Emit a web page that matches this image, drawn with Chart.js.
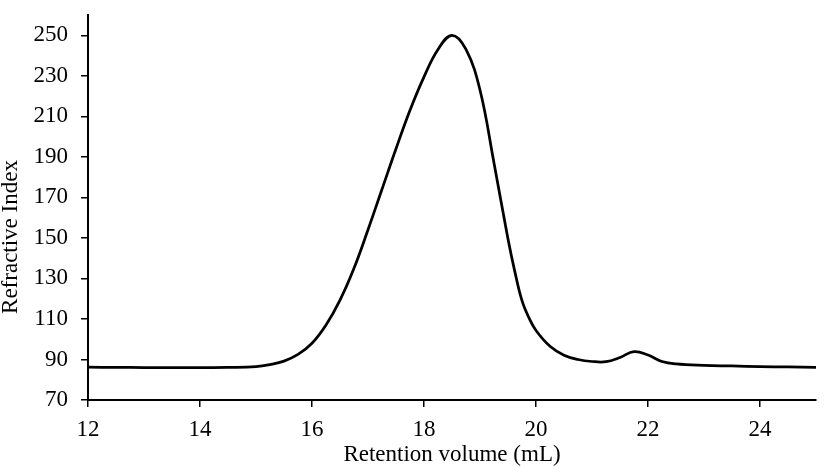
<!DOCTYPE html>
<html>
<head>
<meta charset="utf-8">
<script src="https://cdn.jsdelivr.net/npm/chart.js@4/dist/chart.umd.min.js"></script>
<style>
  html, body { margin: 0; padding: 0; background: #fff; }
  #wrap { width: 836px; height: 466px; }
</style>
</head>
<body>
<div id="wrap"><canvas id="riChart"></canvas></div>
<script>
    // retention volume (mL) and refractive index
    const volume = [12, 12.5, 13, 13.5, 14, 14.5, 15, 15.25, 15.5, 15.75, 16, 16.25, 16.5, 16.75,
        17, 17.25, 17.5, 17.75, 18, 18.25, 18.5, 18.75, 19, 19.25, 19.5, 19.625, 19.75, 19.875, 20, 20.25,
        20.5, 20.75, 21, 21.25, 21.5, 21.75, 22, 22.25, 22.5, 23, 23.5, 24, 24.5, 25];
    const refractive = [86.2, 86.1, 86.0, 86.0, 86.0, 86.1, 86.5, 87.5, 89.2, 92.5, 98.0, 107, 119.3, 135,
        154, 174, 194, 213, 229.5, 243, 250, 243, 223, 187, 149.5, 133, 119, 110.5, 104.3, 96.5,
        92.1, 90.0, 89.0, 88.9, 91.0, 93.9, 92.2, 89.0, 87.8, 87.1, 86.8, 86.5, 86.3, 86.1];

    const xTicks = [12, 14, 16, 18, 20, 22, 24];
    const yTicks = [70, 90, 110, 130, 150, 170, 190, 210, 230, 250];

    const serif = '"Liberation Serif", "Times New Roman", serif';

    // y title sits a little below the middle of the axis, so draw it ourselves
    const yTitle = {
        id: 'yTitle',
        afterDraw(chart) {
            const ctx = chart.ctx;
            ctx.save();
            ctx.translate(16.5, 237);
            ctx.rotate(-Math.PI / 2);
            ctx.font = '23px ' + serif;
            ctx.fillStyle = '#000';
            ctx.textAlign = 'center';
            ctx.textBaseline = 'alphabetic';
            ctx.fillText('Refractive Index', 0, 0);
            ctx.restore();
        }
    };

    new Chart(document.getElementById('riChart'), {
        type: 'line',
        data: {
            datasets: [{
                data: volume.map((v, i) => ({ x: v, y: refractive[i] })),
                borderColor: '#000',
                borderWidth: 2.75,
                pointRadius: 0,
                fill: false,
                tension: 0.4
            }]
        },
        options: {
            responsive: true,
            maintainAspectRatio: false,
            animation: false,
            layout: { padding: { top: 15, right: 20, bottom: 0, left: 0 } },
            plugins: { legend: { display: false }, tooltip: { enabled: false } },
            scales: {
                x: {
                    type: 'linear',
                    min: 12,
                    max: 25,
                    afterBuildTicks: scale => { scale.ticks = xTicks.map(v => ({ value: v })); },
                    afterFit: scale => { scale.height = 66; },
                    border: { display: true, color: '#000', width: 2 },
                    grid: { drawOnChartArea: false, drawTicks: true, tickLength: 7, color: '#000', lineWidth: 1.5 },
                    ticks: { color: '#000', padding: 9, maxRotation: 0, font: { family: serif, size: 23 } },
                    title: {
                        display: true,
                        text: 'Retention volume (mL)',
                        color: '#000',
                        padding: 0,
                        font: { family: serif, size: 23, lineHeight: 1 }
                    }
                },
                y: {
                    min: 70,
                    max: 260,
                    afterBuildTicks: scale => { scale.ticks = yTicks.map(v => ({ value: v })); },
                    afterFit: scale => {
                        scale.width = 88;
                        scale.paddingTop = 0;
                        scale.paddingBottom = 0;
                    },
                    border: { display: true, color: '#000', width: 2 },
                    grid: { drawOnChartArea: false, drawTicks: true, tickLength: 7, color: '#000', lineWidth: 1.5 },
                    ticks: { color: '#000', padding: 13, font: { family: serif, size: 23 } }
                }
            }
        },
        plugins: [yTitle]
    });
</script>
</body>
</html>
